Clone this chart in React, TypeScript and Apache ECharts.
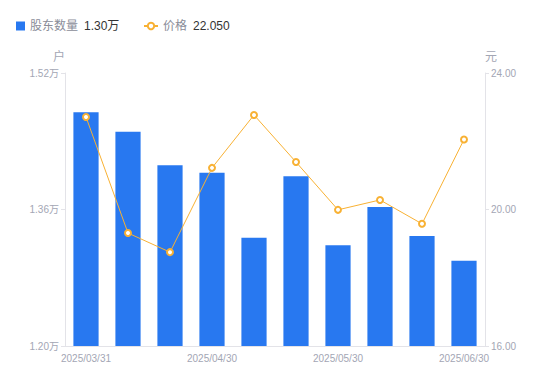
import React, { useEffect, useRef } from "react";
import * as echarts from "echarts";

const categories = [
  "2025/03/31", "2025/04/10", "2025/04/20", "2025/04/30", "2025/05/10",
  "2025/05/20", "2025/05/30", "2025/06/10", "2025/06/20", "2025/06/30",
];
const holders = [14740, 14510, 14120, 14030, 13270, 13990, 13180, 13630, 13290, 13000];
const prices = [22.71, 19.31, 18.75, 21.22, 22.77, 21.39, 19.99, 20.28, 19.58, 22.05];
const legendValues: Record<string, string> = { "股东数量": "1.30万", "价格": "22.050" };

export default function App() {
  const ref = useRef<HTMLDivElement>(null);
  useEffect(() => {
    const chart = echarts.init(ref.current!, undefined, { renderer: "svg" });
    const axisLabelColor = "#a3a6b4";
    const legendText = {
      rich: {
        n: { color: "#8a8d99", fontSize: 12, padding: [0, 6, 0, 0] },
        v: { color: "#333", fontSize: 12 },
      },
    };
    const fmt = (name: string) => `{n|${name}}{v|${legendValues[name]}}`;
    chart.setOption({
      animation: false,
      textStyle: { fontFamily: "Liberation Sans, Arial, Noto Sans CJK SC, sans-serif" },
      legend: [
        {
          left: 11,
          top: 15,
          itemWidth: 9,
          itemHeight: 9,
          data: [{ name: "股东数量", icon: "rect" }],
          formatter: fmt,
          textStyle: legendText,
        },
        {
          left: 138,
          top: 15,
          itemWidth: 14,
          itemHeight: 8,
          data: [{ name: "价格" }],
          formatter: fmt,
          textStyle: legendText,
        },
      ],
      grid: { left: 65, right: 65, top: 73, bottom: 35, containLabel: false },
      xAxis: {
        type: "category",
        data: categories,
        axisLine: { lineStyle: { color: "#e3e3e8" } },
        axisTick: { show: false },
        axisLabel: {
          color: axisLabelColor,
          fontSize: 10,
          interval: 2,
          margin: 7,
        },
      },
      yAxis: [
        {
          type: "value",
          name: "户",
          nameGap: 10,
          nameTextStyle: { color: axisLabelColor, fontSize: 12, align: "right" },
          min: 12000,
          max: 15200,
          interval: 1600,
          axisLine: { show: true, lineStyle: { color: "#e3e3e8" } },
          axisTick: { show: true, length: 4, lineStyle: { color: "#e3e3e8" } },
          splitLine: { show: false },
          axisLabel: {
            color: axisLabelColor,
            fontSize: 10,
            margin: 6,
            formatter: (v: number) => (v / 10000).toFixed(2) + "万",
          },
        },
        {
          type: "value",
          name: "元",
          nameGap: 10,
          nameTextStyle: { color: axisLabelColor, fontSize: 12, align: "left" },
          min: 16,
          max: 24,
          interval: 4,
          axisLine: { show: true, lineStyle: { color: "#e3e3e8" } },
          axisTick: { show: true, length: 4, lineStyle: { color: "#e3e3e8" } },
          splitLine: { show: false },
          axisLabel: {
            color: axisLabelColor,
            fontSize: 10,
            margin: 6,
            formatter: (v: number) => v.toFixed(2),
          },
        },
      ],
      series: [
        {
          name: "股东数量",
          type: "bar",
          data: holders,
          barWidth: "60%",
          itemStyle: { color: "#2878f0" },
        },
        {
          name: "价格",
          type: "line",
          yAxisIndex: 1,
          data: prices,
          symbol: "emptyCircle",
          symbolSize: 6,
          lineStyle: { color: "#f8b133", width: 1 },
          itemStyle: { color: "#f8b133", borderWidth: 2 },
        },
      ],
    });
    return () => chart.dispose();
  }, []);
  return <div ref={ref} style={{ width: 550, height: 381, margin: -8 }} />;
}
